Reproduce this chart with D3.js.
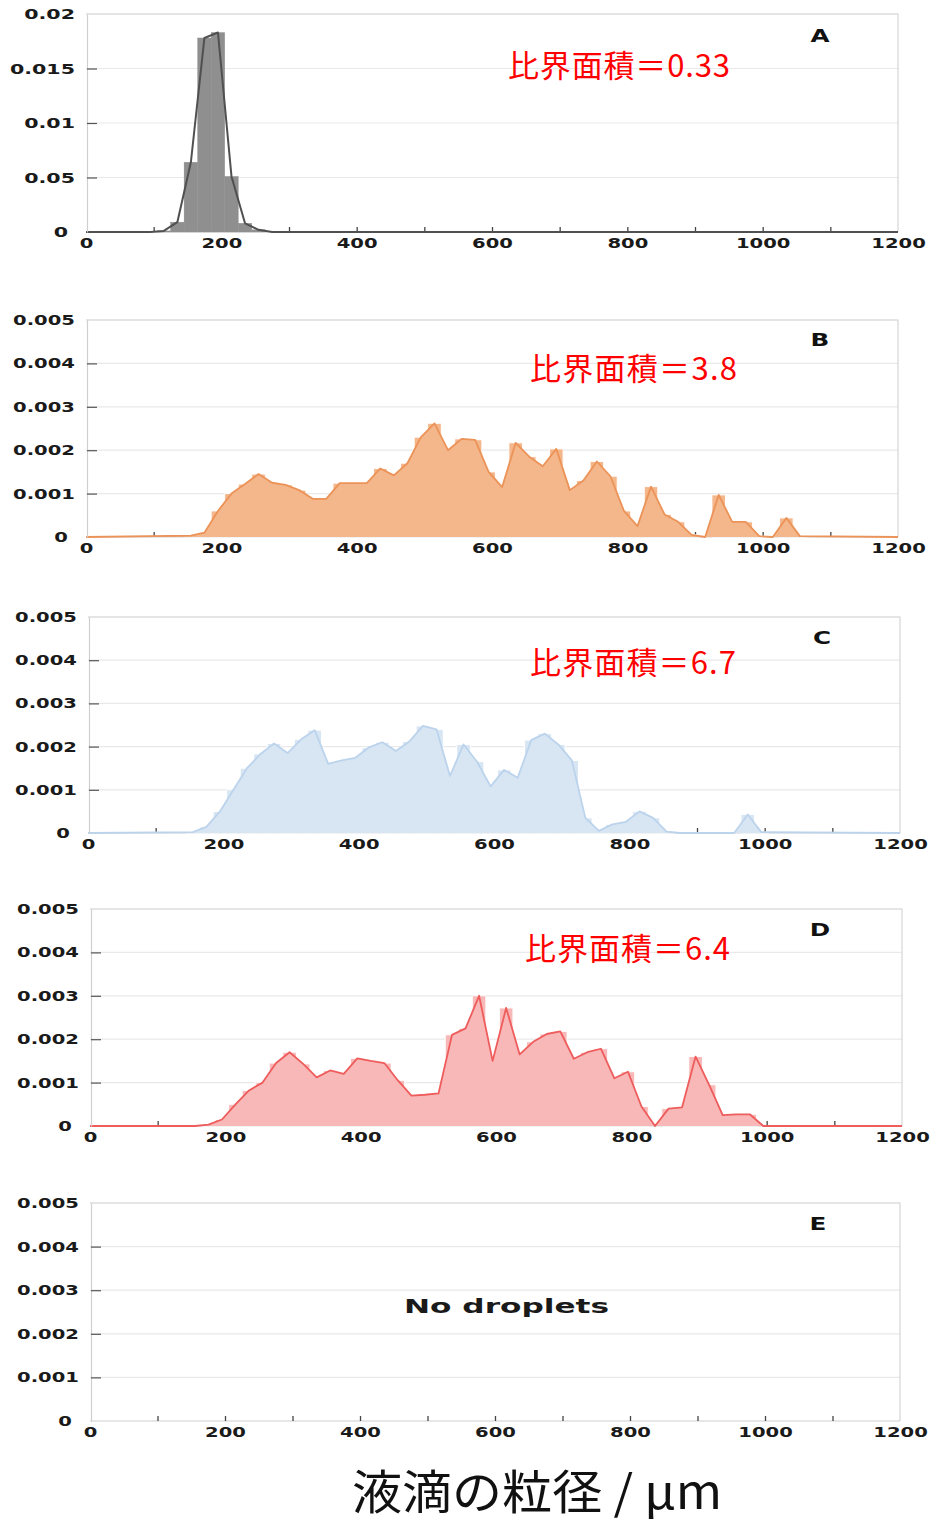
<!DOCTYPE html>
<html>
<head>
<meta charset="utf-8">
<script src="https://cdn.jsdelivr.net/npm/d3@7"></script>
<style>
  body { margin: 0; background: #ffffff; }
  svg { display: block; }
</style>
</head>
<body>
<svg id="chart" width="936" height="1525"></svg>
<script>
// ---- data ---------------------------------------------------------------
// droplet diameter bins (µm, bin centres, 20 µm wide) and frequency per bin
const binWidth = 20;
const xTicks = [0, 100, 200, 300, 400, 500, 600, 700, 800, 900, 1000, 1100, 1200];
const xTickLabels = ["0", "", "200", "", "400", "", "600", "", "800", "", "1000", "", "1200"];

const yTicksA = [0, 0.005, 0.01, 0.015, 0.02];
const yTickLabelsA = ["0", "0.05", "0.01", "0.015", "0.02"];
const yTicksB = [0, 0.001, 0.002, 0.003, 0.004, 0.005];
const yTickLabelsB = ["0", "0.001", "0.002", "0.003", "0.004", "0.005"];

const panelLetters = ["A", "B", "C", "D", "E"];
const ratioLabels = ["比界面積＝0.33", "比界面積＝3.8", "比界面積＝6.7", "比界面積＝6.4", ""];
const emptyLabel = "No droplets";
const xTitle = "液滴の粒径 / μm";

const binsA = [95, 115, 135, 155, 175, 195, 215, 235, 255, 275];
const valuesA = [0, 0.0001, 0.0009, 0.0064, 0.0178, 0.0183, 0.0051, 0.0008, 0.0002, 0];

const binsB = [155, 175, 195, 215, 235, 255, 275, 295, 315, 335, 355, 375, 395, 415, 435, 455,
  475, 495, 515, 535, 555, 575, 595, 615, 635, 655, 675, 695, 715, 735, 755, 775, 795, 815,
  835, 855, 875, 895, 915, 935, 955, 975, 995, 1015, 1035, 1055];
const valuesB = [0.00003, 0.0001, 0.0006, 0.001, 0.00122, 0.00145, 0.00125, 0.0012, 0.00108,
  0.00088, 0.00088, 0.00124, 0.00124, 0.00124, 0.00158, 0.00142, 0.0017, 0.0023, 0.00262,
  0.002, 0.00226, 0.00224, 0.0015, 0.00115, 0.00217, 0.00185, 0.00163, 0.00203, 0.00108,
  0.0013, 0.00174, 0.0014, 0.0006, 0.00025, 0.00116, 0.00052, 0.00035, 0.00005, 0, 0.00097,
  0.00035, 0.00035, 0.00002, 0, 0.00044, 0.00002];

const binsC = [155, 175, 195, 215, 235, 255, 275, 295, 315, 335, 355, 375, 395, 415, 435, 455,
  475, 495, 515, 535, 555, 575, 595, 615, 635, 655, 675, 695, 715, 735, 755, 775, 795, 815,
  835, 855, 875, 895, 915, 935, 955, 975, 995];
const valuesC = [0.00002, 0.00014, 0.0005, 0.001, 0.0015, 0.00183, 0.00207, 0.00185, 0.00217,
  0.00238, 0.0016, 0.00168, 0.00174, 0.00198, 0.0021, 0.0019, 0.00212, 0.00248, 0.0024,
  0.00132, 0.00205, 0.00165, 0.00108, 0.00146, 0.00128, 0.00215, 0.0023, 0.00205, 0.00168,
  0.00035, 0.00005, 0.0002, 0.00026, 0.0005, 0.00035, 0.00003, 0, 0, 0, 0, 0, 0.00043, 0.00002];

const binsD = [155, 175, 195, 215, 235, 255, 275, 295, 315, 335, 355, 375, 395, 415, 435, 455,
  475, 495, 515, 535, 555, 575, 595, 615, 635, 655, 675, 695, 715, 735, 755, 775, 795, 815,
  835, 855, 875, 895, 915, 935, 955, 975, 995];
const valuesD = [0, 0.00003, 0.00015, 0.0005, 0.00082, 0.001, 0.00145, 0.0017, 0.00143,
  0.00112, 0.00128, 0.0012, 0.00156, 0.0015, 0.00145, 0.00105, 0.0007, 0.00072, 0.00075,
  0.0021, 0.00225, 0.003, 0.0015, 0.00272, 0.00165, 0.00194, 0.00212, 0.00218, 0.00155,
  0.0017, 0.00178, 0.0011, 0.00125, 0.00045, 0, 0.0004, 0.00043, 0.0016, 0.00095, 0.00025,
  0.00027, 0.00027, 0];

// ---- layout -------------------------------------------------------------
const panels = [
  { bins: binsA, values: valuesA, yTicks: yTicksA, yLabels: yTickLabelsA, tickSize: 14.5,
    x0: 86, x1: 898, top: 14, base: 232, fill: "#8f8f8f", stroke: "#505050", area: false,
    letterPos: [820, 42], ratioPos: [508, 77], ratioWidth: 222 },
  { bins: binsB, values: valuesB, yTicks: yTicksB, yLabels: yTickLabelsB, tickSize: 13.8,
    x0: 86, x1: 898, top: 320, base: 537, fill: "#f4b68b", stroke: "#eb9358", area: true,
    letterPos: [820, 346], ratioPos: [530, 380], ratioWidth: 207 },
  { bins: binsC, values: valuesC, yTicks: yTicksB, yLabels: yTickLabelsB, tickSize: 13.8,
    x0: 88, x1: 900, top: 617, base: 833, fill: "#d8e6f4", stroke: "#bcd3ec", area: true,
    letterPos: [822, 644], ratioPos: [530, 674], ratioWidth: 206 },
  { bins: binsD, values: valuesD, yTicks: yTicksB, yLabels: yTickLabelsB, tickSize: 13.8,
    x0: 90, x1: 902, top: 909, base: 1126, fill: "#f8b8b8", stroke: "#ee5c5c", area: true,
    letterPos: [820, 936], ratioPos: [525, 960], ratioWidth: 205 },
  { bins: [], values: [], yTicks: yTicksB, yLabels: yTickLabelsB, tickSize: 13.8,
    x0: 90, x1: 900, top: 1203, base: 1421, fill: "none", stroke: "#c8c8c8", area: false,
    letterPos: [818, 1230], ratioPos: null, ratioWidth: 0 }
];

const tickFont = "'DejaVu Sans', Verdana, sans-serif";
const cjkFont = "'Noto Sans CJK JP', 'Noto Sans CJK SC', sans-serif";
const stretch = 1.42;

const svg = d3.select("#chart");

panels.forEach((p, i) => {
  const g = svg.append("g");
  const x = d3.scaleLinear().domain([0, 1200]).range([p.x0, p.x1]);
  const yMax = p.yTicks[p.yTicks.length - 1];
  const y = d3.scaleLinear().domain([0, yMax]).range([p.base, p.top]);

  // horizontal gridlines
  g.append("g").selectAll("line")
    .data(p.yTicks.filter(v => v > 0))
    .join("line")
    .attr("x1", x(0)).attr("x2", x(1200))
    .attr("y1", d => y(d)).attr("y2", d => y(d))
    .attr("stroke", "#e9e9e9").attr("stroke-width", 1.2);

  // frame (top and right edges)
  g.append("path")
    .attr("d", `M${x(0)},${y(yMax)}H${x(1200)}V${y(0)}`)
    .attr("fill", "none").attr("stroke", "#d6d6d6").attr("stroke-width", 1.2);

  // baseline
  g.append("line")
    .attr("x1", x(0)).attr("x2", x(1200)).attr("y1", y(0)).attr("y2", y(0))
    .attr("stroke", "#cfcfcf").attr("stroke-width", 1.2);

  // x axis: ticks every 100 µm pointing up, labels every 200 µm
  const xAxis = d3.axisBottom(x)
    .tickValues(xTicks)
    .tickFormat((d, k) => xTickLabels[k])
    .tickSizeInner(-5).tickSizeOuter(0).tickPadding(6);
  const gx = g.append("g").attr("transform", `translate(0,${y(0)})`).call(xAxis);
  gx.select(".domain").remove();
  gx.selectAll(".tick line")
    .attr("stroke", "#444").attr("stroke-width", 1.3)
    .attr("opacity", d => (d === 0 || d === 1200) ? 0 : 1);
  gx.selectAll(".tick text")
    .attr("font-family", tickFont).attr("font-weight", "bold")
    .attr("font-size", 13.8).attr("fill", "#1a1a1a")
    .attr("transform", `scale(${stretch},1)`);

  // histogram bars
  const pts = p.bins.map((c, k) => ({ c: c, v: p.values[k] }));
  g.append("g").selectAll("rect")
    .data(pts)
    .join("rect")
    .attr("x", d => x(d.c - binWidth / 2))
    .attr("width", d => x(d.c + binWidth / 2) - x(d.c - binWidth / 2))
    .attr("y", d => y(d.v))
    .attr("height", d => y(0) - y(d.v))
    .attr("fill", p.fill)
    .attr("stroke", p.area ? "#ffffff" : p.fill).attr("stroke-width", p.area ? 0.9 : 0.4);

  if (pts.length) {
    const linePts = [{ c: 0, v: 0 }, ...pts, { c: 1200, v: 0 }];
    if (p.area) {
      g.append("path")
        .datum(linePts)
        .attr("d", d3.area().x(d => x(d.c)).y0(y(0)).y1(d => y(d.v)))
        .attr("fill", p.fill);
    }
    g.append("path")
      .datum(linePts)
      .attr("d", d3.line().x(d => x(d.c)).y(d => y(d.v)))
      .attr("fill", "none")
      .attr("stroke", p.stroke)
      .attr("stroke-width", p.area ? 1.8 : 2)
      .attr("stroke-linejoin", "round");
  }

  // y axis (left frame edge) with short inward ticks
  const yAxis = d3.axisLeft(y)
    .tickValues(p.yTicks)
    .tickFormat((d, k) => p.yLabels[k])
    .tickSizeInner(-10).tickSizeOuter(0).tickPadding(0);
  const gy = g.append("g").attr("transform", `translate(${x(0) + 1},0)`).call(yAxis);
  gy.select(".domain").attr("stroke", "#cfcfcf").attr("stroke-width", 1.2);
  gy.selectAll(".tick line")
    .attr("stroke", "#555").attr("stroke-width", 1.2)
    .attr("opacity", d => (d === 0 || d === yMax) ? 0 : 1);
  gy.selectAll(".tick text")
    .attr("font-family", tickFont).attr("font-weight", "bold")
    .attr("font-size", p.tickSize).attr("fill", "#1a1a1a")
    .attr("x", d => d === 0 ? -19 / stretch : -12 / stretch)
    .attr("transform", `scale(${stretch},1)`);

  // panel letter
  svg.append("text")
    .attr("transform", `translate(${p.letterPos[0]},${p.letterPos[1]}) scale(1.45,1)`)
    .attr("text-anchor", "middle")
    .attr("font-family", tickFont).attr("font-weight", "bold")
    .attr("font-size", 17).attr("fill", "#111")
    .text(panelLetters[i]);

  // specific interfacial area annotation
  if (p.ratioPos && ratioLabels[i]) {
    svg.append("text")
      .attr("x", p.ratioPos[0]).attr("y", p.ratioPos[1])
      .attr("textLength", p.ratioWidth).attr("lengthAdjust", "spacing")
      .attr("font-family", cjkFont).attr("font-size", 31)
      .attr("fill", "#ff0000")
      .text(ratioLabels[i]);
  }

  if (!pts.length) {
    svg.append("text")
      .attr("x", 404).attr("y", 1313)
      .attr("textLength", 205).attr("lengthAdjust", "spacingAndGlyphs")
      .attr("font-family", tickFont).attr("font-weight", "bold")
      .attr("font-size", 19).attr("fill", "#1a1a1a")
      .text(emptyLabel);
  }
});

// shared x-axis title
svg.append("text")
  .attr("x", 352).attr("y", 1509)
  .attr("textLength", 370).attr("lengthAdjust", "spacingAndGlyphs")
  .attr("font-family", cjkFont).attr("font-size", 47)
  .attr("fill", "#111")
  .text(xTitle);
</script>
</body>
</html>
